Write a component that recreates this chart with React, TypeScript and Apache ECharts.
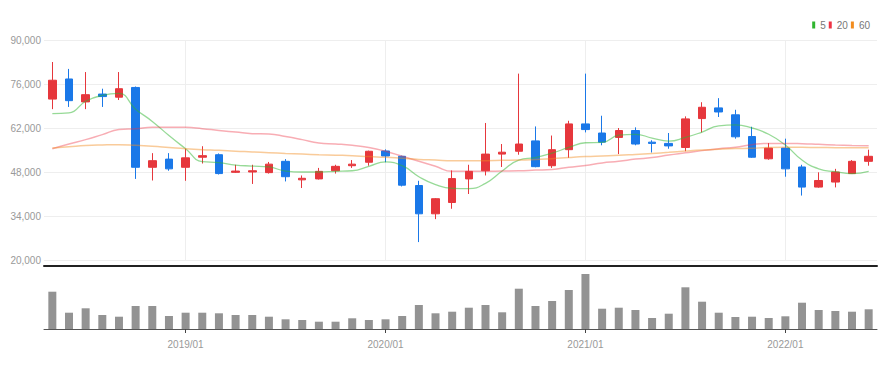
import { useEffect, useRef } from 'react';
import * as echarts from 'echarts';

const months = [
  '2018/05', '2018/06', '2018/07', '2018/08', '2018/09', '2018/10', '2018/11', '2018/12',
  '2019/01', '2019/02', '2019/03', '2019/04', '2019/05', '2019/06', '2019/07', '2019/08', '2019/09', '2019/10', '2019/11', '2019/12',
  '2020/01', '2020/02', '2020/03', '2020/04', '2020/05', '2020/06', '2020/07', '2020/08', '2020/09', '2020/10', '2020/11', '2020/12',
  '2021/01', '2021/02', '2021/03', '2021/04', '2021/05', '2021/06', '2021/07', '2021/08', '2021/09', '2021/10', '2021/11', '2021/12',
  '2022/01', '2022/02', '2022/03', '2022/04', '2022/05', '2022/06',
];

const opens = [
  71200, 77600, 70300, 72800, 71800, 74900, 49500, 52100, 49500, 52700,
  53500, 47900, 48000, 47800, 51400, 45500, 45800, 48400, 50000, 51100,
  54700, 53000, 43700, 34700, 38300, 45800, 48400, 53700, 54600, 57900,
  50000, 55100, 63300, 60400, 59000, 61200, 57500, 57100, 55800, 65000,
  68400, 66200, 59300, 52200, 55600, 49600, 43200, 44800, 47500, 51400,
];
const closes = [
  77200, 70700, 72600, 72000, 74500, 49500, 51600, 49000, 52500, 53200,
  47500, 48300, 48400, 50500, 46500, 46000, 48200, 49800, 50500, 54600,
  53100, 43800, 34700, 39500, 45900, 48200, 53700, 54300, 56900, 49700,
  55100, 63300, 61500, 57500, 61200, 56900, 57100, 56300, 64900, 68600,
  67100, 59200, 52700, 55600, 49000, 43200, 45300, 48000, 51400, 53000,
];
const lows = [
  68000, 68700, 68000, 68700, 70900, 45800, 45300, 48400, 45200, 50700,
  47200, 47700, 44200, 47500, 45000, 42900, 45600, 47500, 49300, 50000,
  51100, 43400, 25700, 33000, 36300, 41000, 46900, 49600, 53500, 49500,
  49300, 52500, 60600, 56500, 53700, 56500, 54200, 55400, 54600, 60600,
  65500, 58600, 52500, 51900, 46500, 40500, 43000, 43100, 47400, 50000,
];
const highs = [
  83000, 80800, 79800, 74500, 79800, 75200, 54000, 54000, 55400, 56200,
  53900, 50300, 50300, 51200, 52100, 46900, 49300, 50300, 51800, 54800,
  55200, 53200, 45200, 39700, 48500, 50300, 63600, 56900, 79300, 62500,
  59600, 64300, 79300, 65900, 62000, 62200, 58100, 60400, 65700, 70200,
  71500, 67800, 62400, 57200, 58600, 50300, 47900, 49000, 51800, 55100,
];

const ma5 = [
  66600, 66800, 70500, 72400, 73000, 68000, 64100, 59600, 55400, 51300,
  51000, 50200, 49900, 49600, 48300, 48000, 48000, 48200, 48400, 49800,
  51200, 50000, 46500, 44000, 42800, 42700, 44400, 48300, 51800, 52600,
  54000, 55800, 57300, 57400, 59700, 60000, 58800, 57800, 59000, 60700,
  62700, 63000, 62000, 60000, 56600, 51800, 49000, 48100, 47500, 48200,
];
const ma20 = [
  55400, 56900, 58300, 59900, 61500, 61800, 62200, 62200, 62200, 61800,
  61200, 60700, 60200, 60100, 59300, 58300, 57200, 56900, 56500, 55800,
  54600, 53000, 51400, 49800, 48200, 48200, 48200, 48300, 48400, 48600,
  48800, 49500, 50100, 50900, 51400, 52100, 52600, 53400, 54100, 54800,
  55400, 55900, 56700, 57100, 57100, 57000, 56800, 56600, 56450, 56350,
];
const ma60 = [
  55600, 56000, 56400, 56600, 56700, 56500, 56200, 55800, 55400, 55100,
  54900, 54600, 54400, 54150, 53900, 53700, 53500, 53350, 53200, 52900,
  52700, 52350, 52000, 51800, 51600, 51600, 51600, 51700, 51800, 52000,
  52250, 52600, 52900, 53100, 53300, 53600, 53900, 54250, 54650, 55000,
  55250, 55450, 55550, 55800, 55860, 55850, 55800, 55750, 55730, 55730,
];

const volumes = [
  373, 163, 207, 140, 123, 230, 230, 130, 163, 163,
  157, 140, 140, 123, 97, 90, 73, 73, 107, 90,
  97, 130, 240, 157, 173, 213, 240, 167, 403, 230,
  280, 390, 550, 203, 213, 190, 110, 153, 417, 273,
  163, 120, 123, 110, 127, 263, 190, 180, 173, 197,
];

const legendNames = ['5', '20', '60'];
const priceMin = 20000;
const priceMax = 90000;
const priceStep = 14000;

const UP = '#e6373c';
const DOWN = '#1a78e8';
const FONT = '"Liberation Sans Narrow", "Liberation Sans", sans-serif';

export default function App() {
  const ref = useRef<HTMLDivElement>(null);

  useEffect(() => {
    const chart = echarts.init(ref.current!, null, { renderer: 'svg' });
    const isYear = (_i: number, v: string) => String(v).endsWith('/01');
    const candles = months.map((_, i) => [opens[i], closes[i], lows[i], highs[i]]);

    chart.setOption({
      animation: false,
      backgroundColor: '#ffffff',
      legend: {
        data: legendNames,
        right: 24,
        top: 20,
        icon: 'rect',
        itemWidth: 3,
        itemHeight: 7,
        itemGap: 3,
        padding: 0,
        textStyle: { fontSize: 10, color: '#777', fontFamily: FONT },
      },
      grid: [
        { left: 44, right: 17, top: 40, height: 220 },
        { left: 44, right: 17, top: 272, height: 57 },
      ],
      xAxis: [
        {
          type: 'category',
          gridIndex: 0,
          data: months,
          boundaryGap: true,
          offset: 6,
          axisLine: { show: true, lineStyle: { color: '#222', width: 2 } },
          axisTick: { show: false },
          axisLabel: { show: false },
          splitLine: {
            show: true,
            interval: isYear,
            alignWithLabel: true,
            lineStyle: { color: '#eeeeee', width: 1 },
          },
        },
        {
          type: 'category',
          gridIndex: 1,
          data: months,
          boundaryGap: true,
          axisLine: { show: true, lineStyle: { color: '#555', width: 1 } },
          axisTick: { show: true, interval: isYear, alignWithLabel: true, length: 4, lineStyle: { color: '#444' } },
          axisLabel: { interval: isYear, color: '#999', fontSize: 10, margin: 10, fontFamily: FONT },
          splitLine: { show: false },
        },
      ],
      yAxis: [
        {
          type: 'value',
          gridIndex: 0,
          min: priceMin,
          max: priceMax,
          interval: priceStep,
          axisLine: { show: false },
          axisTick: { show: false },
          axisLabel: { color: '#999', fontSize: 10, margin: 3, fontFamily: FONT },
          splitLine: { show: true, lineStyle: { color: '#eeeeee', width: 1 } },
        },
        {
          type: 'value',
          gridIndex: 1,
          min: 0,
          max: 570,
          axisLine: { show: false },
          axisTick: { show: false },
          axisLabel: { show: false },
          splitLine: { show: false },
        },
      ],
      series: [
        {
          type: 'candlestick',
          xAxisIndex: 0,
          yAxisIndex: 0,
          data: candles,
          barWidth: 8,
          itemStyle: {
            color: UP,
            color0: DOWN,
            borderColor: UP,
            borderColor0: DOWN,
            borderWidth: 1,
          },
        },
        {
          name: '5',
          type: 'line',
          xAxisIndex: 0,
          yAxisIndex: 0,
          data: ma5,
          smooth: true,
          showSymbol: false,
          symbol: 'none',
          itemStyle: { color: '#2fb52f' },
          lineStyle: { color: '#2fb52f', width: 1.3, opacity: 0.5 },
          z: 3,
        },
        {
          name: '20',
          type: 'line',
          xAxisIndex: 0,
          yAxisIndex: 0,
          data: ma20,
          smooth: true,
          showSymbol: false,
          symbol: 'none',
          itemStyle: { color: '#ee3344' },
          lineStyle: { color: '#ee3344', width: 1.5, opacity: 0.4 },
          z: 3,
        },
        {
          name: '60',
          type: 'line',
          xAxisIndex: 0,
          yAxisIndex: 0,
          data: ma60,
          smooth: true,
          showSymbol: false,
          symbol: 'none',
          itemStyle: { color: '#f28c1e' },
          lineStyle: { color: '#f28c1e', width: 1.5, opacity: 0.45 },
          z: 3,
        },
        {
          type: 'bar',
          xAxisIndex: 1,
          yAxisIndex: 1,
          data: volumes,
          barWidth: 8,
          itemStyle: { color: '#939393' },
        },
      ],
    });

    return () => chart.dispose();
  }, []);

  return (
    <div
      ref={ref}
      style={{ position: 'absolute', left: 0, top: 0, width: 894, height: 370 }}
    />
  );
}
